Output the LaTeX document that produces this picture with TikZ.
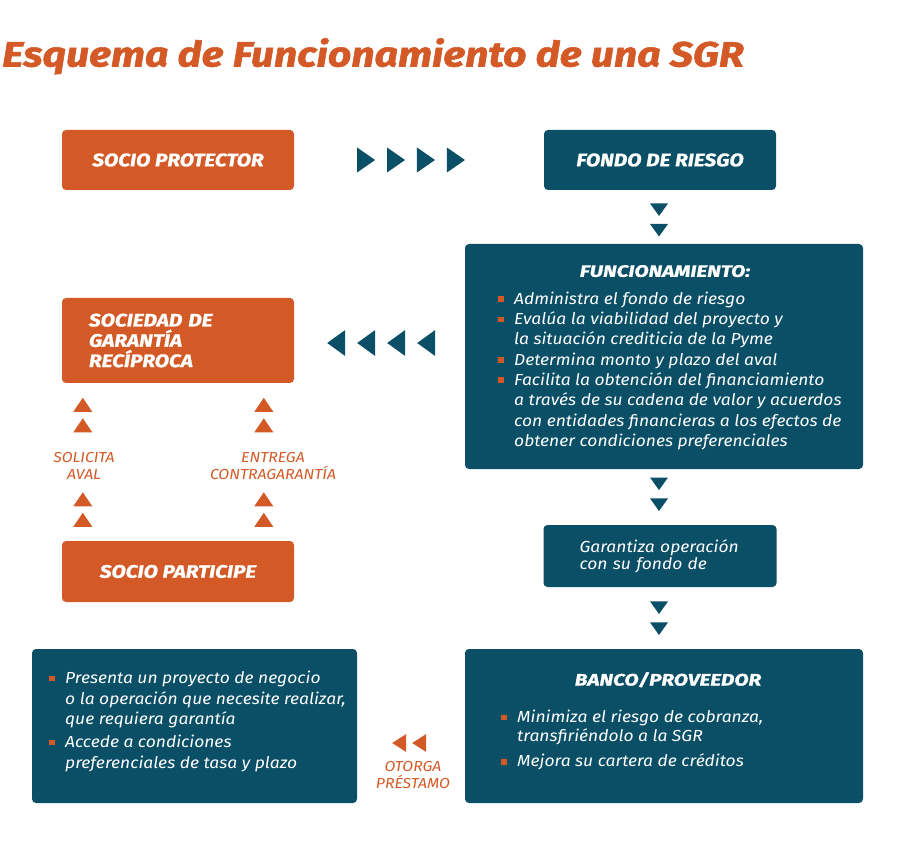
\documentclass[tikz,border=0pt]{standalone}
\usepackage{fontspec}
\setmainfont{Fira Sans}[ItalicFeatures={FakeStretch=1.09}]
\newfontfamily\titlefont{Fira Sans}[BoldItalicFeatures={FakeBold=1.6,FakeStretch=1.17}]
\newfontfamily\boxfont{Fira Sans}[BoldItalicFeatures={FakeBold=1.2,FakeStretch=1.16}]
\newfontfamily\headfont{Fira Sans}[BoldItalicFeatures={FakeBold=1.2,FakeStretch=1.26}]
\usetikzlibrary{calc}
\definecolor{sgrorange}{HTML}{D35A27}
\definecolor{sgrteal}{HTML}{0A4F66}
\tikzstyle{orangebox} = [rectangle, rounded corners=4pt, fill=sgrorange, text=white, inner sep=0pt, font=\fontsize{18}{20.3}\selectfont\boxfont\bfseries\itshape]
\tikzstyle{tealbox} = [rectangle, rounded corners=4pt, fill=sgrteal, text=white, inner sep=0pt, font=\fontsize{18}{20.3}\selectfont\boxfont\bfseries\itshape]
\tikzstyle{heading} = [text=white, inner sep=0pt, anchor=base, font=\fontsize{16.5}{20}\selectfont\headfont\bfseries\itshape]
\tikzstyle{bullets} = [text=white, align=left, inner sep=0pt, anchor=north west, font=\fontsize{16}{20.3}\selectfont\itshape]
\tikzstyle{note} = [text=sgrorange, align=center, inner sep=0pt, anchor=north, font=\fontsize{14.5}{16.7}\selectfont\itshape]
\tikzset{
  triright/.pic={\fill[sgrteal] (-9,-12.5) -- (9,0) -- (-9,12.5) -- cycle;},
  trileft/.pic={\fill[sgrteal] (9,-13) -- (-9,0) -- (9,13) -- cycle;},
  tridown/.pic={\fill[sgrteal] (-9,-6.3) -- (9,-6.3) -- (0,6.3) -- cycle;},
  triup/.pic={\fill[sgrorange] (-9.5,7) -- (9.5,7) -- (0,-7) -- cycle;},
  trismall/.pic={\fill[sgrorange] (7,-9) -- (-7,0) -- (7,9) -- cycle;}
}
\newcommand{\bul}{\makebox[16pt][l]{\textcolor{sgrorange}{\rule[2.3pt]{5.7pt}{5.7pt}}}}
\newcommand{\firstln}{\rule{0pt}{14pt}}

\begin{document}
\begin{tikzpicture}[x=1pt, y=-1pt]
\useasboundingbox (0,0) rectangle (900,842);

% Title
\node (title) [anchor=base west, inner sep=0pt, text=sgrorange, font=\fontsize{35}{40}\selectfont\titlefont\bfseries\itshape] at (2,66.5) {Esquema de Funcionamiento de una SGR};

% Nodes
\node (protector) [orangebox, minimum width=232pt, minimum height=60pt] at (178,160) {SOCIO PROTECTOR};
\node (fondo) [tealbox, minimum width=232pt, minimum height=60pt] at (660,160) {FONDO DE RIESGO};
\node (func) [tealbox, minimum width=398pt, minimum height=225pt] at (664,356.5) {};
\node (sgr) [orangebox, minimum width=232pt, minimum height=85pt, text width=178pt, inner xsep=27pt, align=left] at (178,340.5) {SOCIEDAD DE\\GARANTÍA\\RECÍPROCA};
\node (participe) [orangebox, minimum width=232pt, minimum height=61pt] at (178,571.5) {SOCIO PARTICIPE};
\node (garantiza) [tealbox, minimum width=233pt, minimum height=62pt, text width=161pt, inner xsep=36pt, align=left, font=\fontsize{16}{17.4}\selectfont\itshape] at (660,556) {Garantiza operación\\con su fondo de};
\node (banco) [tealbox, minimum width=398pt, minimum height=154pt] at (664,726) {};
\node (pyme) [tealbox, minimum width=325pt, minimum height=154pt] at (194.5,726) {};

% Box contents
\node (functitle) [heading] at ($(func.north)+(1,33)$) {FUNCIONAMIENTO:};
\node (funclist) [bullets] at (498,290) {\firstln\bul Administra el fondo de riesgo\\
  \bul Evalúa la viabilidad del proyecto y\\
  \hspace*{16pt}la situación crediticia de la Pyme\\
  \bul Determina monto y plazo del aval\\
  \bul Facilita la obtención del financiamiento\\
  \hspace*{16pt}a través de su cadena de valor y acuerdos\\
  \hspace*{16pt}con entidades financieras a los efectos de\\
  \hspace*{16pt}obtener condiciones preferenciales};
\node (bancotitle) [heading] at ($(banco.north)+(4,36.7)$) {BANCO/PROVEEDOR};
\node (bancolist) [bullets, font=\fontsize{16}{19.4}\selectfont\itshape] at (501,708.3) {\firstln\bul Minimiza el riesgo de cobranza,\\
  \hspace*{16pt}transfiriéndolo a la SGR\\[5.6pt]
  \bul Mejora su cartera de créditos};
\node (pymelist) [bullets, font=\fontsize{16}{20.5}\selectfont\itshape] at (49,669.3) {\firstln\bul Presenta un proyecto de negocio\\
  \hspace*{16pt}o la operación que necesite realizar,\\
  \hspace*{16pt}que requiera garantía\\[2.5pt]
  \bul Accede a condiciones\\
  \hspace*{16pt}preferenciales de tasa y plazo};

% Annotations
\node (solicita) [note] at (84,451.3) {\rule{0pt}{11pt}SOLICITA\\AVAL};
\node (entrega) [note] at (273,451.3) {\rule{0pt}{11pt}ENTREGA\\CONTRAGARANTÍA};
\node (otorga) [note] at (413,760.7) {\rule{0pt}{11pt}OTORGA\\PRÉSTAMO};

% Arrows
\foreach \f in {0.288,0.408,0.528,0.648}
  \pic at ($(protector.east)!\f!(fondo.west)$) {triright};
\foreach \dy in {19.5,40}
  \pic at ($(fondo.south)+(-1,\dy)$) {tridown};
\foreach \dx in {42,72,102,132}
  \pic at ($(sgr.east)+(\dx,2.5)$) {trileft};
\foreach \dy in {14.6,35.5}
  \pic at ($(func.south)+(-5,\dy)$) {tridown};
\foreach \dy in {20.5,41.5}
  \pic at ($(garantiza.south)+(-1,\dy)$) {tridown};
\foreach \dy in {21,41.5,115.5,136} {
  \pic at ($(participe.north west)+(21,-\dy)$) {triup};
  \pic at ($(participe.north west)+(202,-\dy)$) {triup};
}
\foreach \dx in {42,62}
  \pic at ($(pyme.east)+(\dx,17)$) {trismall};

\end{tikzpicture}
\end{document}
